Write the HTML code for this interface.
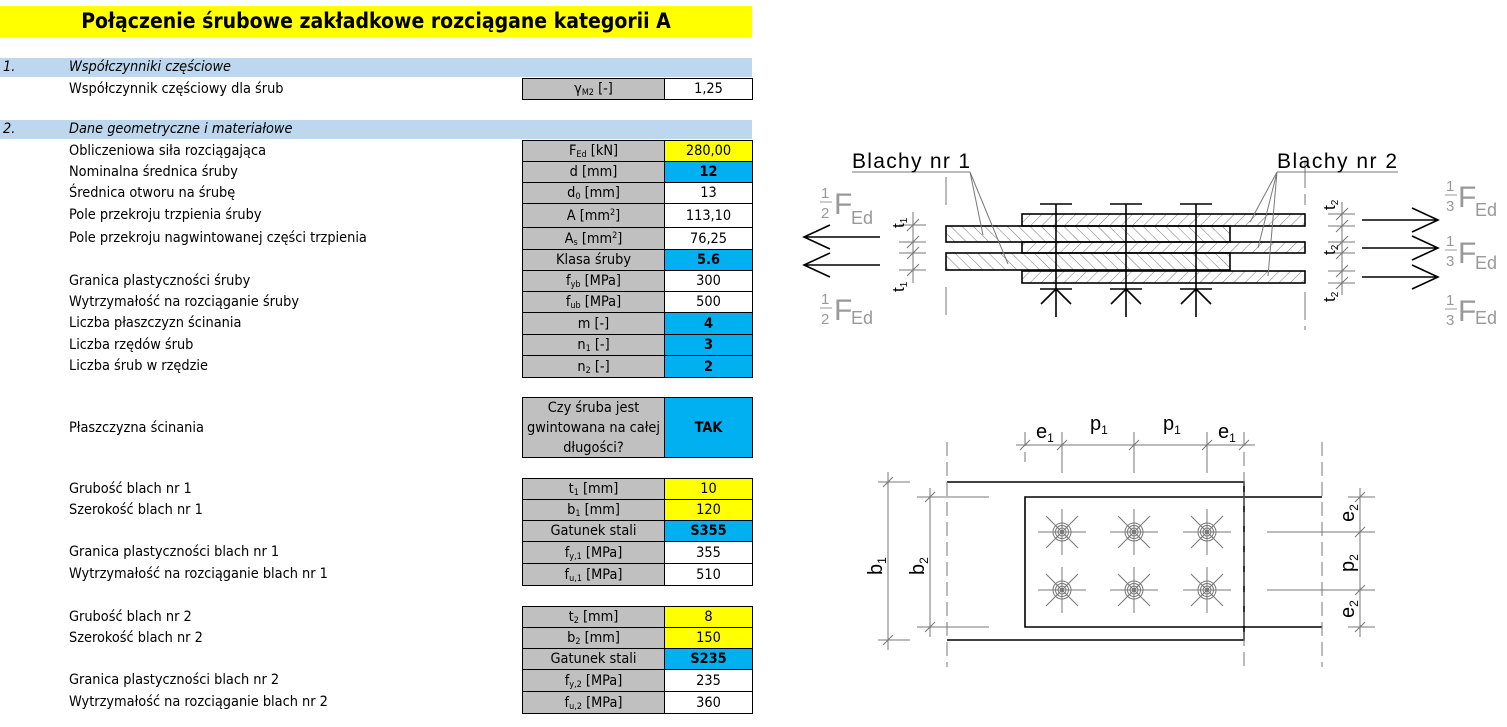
<!DOCTYPE html>
<html><head><meta charset="utf-8">
<style>
body{margin:0;width:1507px;height:727px;background:#fff;position:relative;overflow:hidden;font-family:"DejaVu Sans Condensed","Liberation Sans",sans-serif;font-size:14.4px;color:#000}
.a{position:absolute}
.bar{position:absolute;left:0;width:752px;height:19px;line-height:19px;background:#bdd7ee;font-style:italic}
.lb{position:absolute;left:69px;line-height:22px;white-space:nowrap}
.c1,.c2{position:absolute;box-sizing:border-box;border:1px solid #000;text-align:center;display:flex;align-items:center;justify-content:center}
.c1{left:522px;width:143px;background:#c0c0c0}
.c2{left:664px;width:89px;background:#fff}
.y{background:#ffff00!important}
.b{background:#00b0f0!important;font-weight:bold}
sub{font-size:9px;vertical-align:-2px;line-height:0}
sup{font-size:9px;vertical-align:5px;line-height:0}
</style></head><body>
<div class="a" style="left:0;top:6px;width:752px;height:31px;background:#ffff00;text-align:center;font-weight:bold;font-size:21px;line-height:31px">Połączenie śrubowe zakładkowe rozciągane kategorii A</div>

<div class="bar" style="top:58px"><span class="a" style="left:3px">1.</span><span class="a" style="left:69px">Współczynniki częściowe</span></div>
<div class="lb" style="top:78px">Współczynnik częściowy dla śrub</div>
<div class="c1" style="top:78px;height:22px"><span>γ<sub>M2</sub> [-]</span></div><div class="c2" style="top:78px;height:22px">1,25</div>

<div class="bar" style="top:120px"><span class="a" style="left:3px">2.</span><span class="a" style="left:69px">Dane geometryczne i materiałowe</span></div>

<div class="lb" style="top:140px">Obliczeniowa siła rozciągająca</div>
<div class="c1" style="top:140px;height:22px"><span>F<sub>Ed</sub> [kN]</span></div><div class="c2 y" style="top:140px;height:22px">280,00</div>
<div class="lb" style="top:161px">Nominalna średnica śruby</div>
<div class="c1" style="top:161px;height:22px"><span>d [mm]</span></div><div class="c2 b" style="top:161px;height:22px">12</div>
<div class="lb" style="top:182px">Średnica otworu na śrubę</div>
<div class="c1" style="top:182px;height:22px"><span>d<sub>0</sub> [mm]</span></div><div class="c2" style="top:182px;height:22px">13</div>
<div class="lb" style="top:204px">Pole przekroju trzpienia śruby</div>
<div class="c1" style="top:203px;height:25px"><span>A [mm<sup>2</sup>]</span></div><div class="c2" style="top:203px;height:25px">113,10</div>
<div class="lb" style="top:227px">Pole przekroju nagwintowanej części trzpienia</div>
<div class="c1" style="top:227px;height:23px"><span>A<sub>s</sub> [mm<sup>2</sup>]</span></div><div class="c2" style="top:227px;height:23px">76,25</div>
<div class="c1" style="top:249px;height:22px"><span>Klasa śruby</span></div><div class="c2 b" style="top:249px;height:22px">5.6</div>
<div class="lb" style="top:270px">Granica plastyczności śruby</div>
<div class="c1" style="top:270px;height:22px"><span>f<sub>yb</sub> [MPa]</span></div><div class="c2" style="top:270px;height:22px">300</div>
<div class="lb" style="top:291px">Wytrzymałość na rozciąganie śruby</div>
<div class="c1" style="top:291px;height:22px"><span>f<sub>ub</sub> [MPa]</span></div><div class="c2" style="top:291px;height:22px">500</div>
<div class="lb" style="top:312px">Liczba płaszczyzn ścinania</div>
<div class="c1" style="top:312px;height:23px"><span>m [-]</span></div><div class="c2 b" style="top:312px;height:23px">4</div>
<div class="lb" style="top:334px">Liczba rzędów śrub</div>
<div class="c1" style="top:334px;height:22px"><span>n<sub>1</sub> [-]</span></div><div class="c2 b" style="top:334px;height:22px">3</div>
<div class="lb" style="top:355px">Liczba śrub w rzędzie</div>
<div class="c1" style="top:355px;height:23px"><span>n<sub>2</sub> [-]</span></div><div class="c2 b" style="top:355px;height:23px">2</div>

<div class="lb" style="top:417px">Płaszczyzna ścinania</div>
<div class="c1" style="top:397px;height:61px;line-height:20px"><span>Czy śruba jest<br>gwintowana na całej<br>długości?</span></div><div class="c2 b" style="top:397px;height:61px">TAK</div>

<div class="lb" style="top:478px">Grubość blach nr 1</div>
<div class="c1" style="top:478px;height:22px"><span>t<sub>1</sub> [mm]</span></div><div class="c2 y" style="top:478px;height:22px">10</div>
<div class="lb" style="top:499px">Szerokość blach nr 1</div>
<div class="c1" style="top:499px;height:22px"><span>b<sub>1</sub> [mm]</span></div><div class="c2 y" style="top:499px;height:22px">120</div>
<div class="c1" style="top:520px;height:22px"><span>Gatunek stali</span></div><div class="c2 b" style="top:520px;height:22px">S355</div>
<div class="lb" style="top:541px">Granica plastyczności blach nr 1</div>
<div class="c1" style="top:541px;height:23px"><span>f<sub>y,1</sub> [MPa]</span></div><div class="c2" style="top:541px;height:23px">355</div>
<div class="lb" style="top:563px">Wytrzymałość na rozciąganie blach nr 1</div>
<div class="c1" style="top:563px;height:23px"><span>f<sub>u,1</sub> [MPa]</span></div><div class="c2" style="top:563px;height:23px">510</div>

<div class="lb" style="top:606px">Grubość blach nr 2</div>
<div class="c1" style="top:606px;height:22px"><span>t<sub>2</sub> [mm]</span></div><div class="c2 y" style="top:606px;height:22px">8</div>
<div class="lb" style="top:627px">Szerokość blach nr 2</div>
<div class="c1" style="top:627px;height:22px"><span>b<sub>2</sub> [mm]</span></div><div class="c2 y" style="top:627px;height:22px">150</div>
<div class="c1" style="top:648px;height:22px"><span>Gatunek stali</span></div><div class="c2 b" style="top:648px;height:22px">S235</div>
<div class="lb" style="top:669px">Granica plastyczności blach nr 2</div>
<div class="c1" style="top:669px;height:23px"><span>f<sub>y,2</sub> [MPa]</span></div><div class="c2" style="top:669px;height:23px">235</div>
<div class="lb" style="top:691px">Wytrzymałość na rozciąganie blach nr 2</div>
<div class="c1" style="top:691px;height:23px"><span>f<sub>u,2</sub> [MPa]</span></div><div class="c2" style="top:691px;height:23px">360</div>

<svg class="a" style="left:0;top:0" width="1507" height="727" viewBox="0 0 1507 727" font-family="Liberation Sans, sans-serif">
<defs>
<pattern id="h1" patternUnits="userSpaceOnUse" width="8" height="8" patternTransform="rotate(-45)"><line x1="0" y1="0" x2="0" y2="8" stroke="#555" stroke-width="0.8"/></pattern>
<pattern id="h2" patternUnits="userSpaceOnUse" width="8" height="8" patternTransform="rotate(45)"><line x1="0" y1="0" x2="0" y2="8" stroke="#555" stroke-width="0.8"/></pattern>
<g id="bolt"><circle cx="0" cy="0" r="9"/><circle cx="0" cy="0" r="6.5"/><circle cx="0" cy="0" r="4"/><circle cx="0" cy="0" r="1.5"/><path d="M-24 0H24M0-23V23M-16-16L16 16M-16 16L16-16"/></g>
</defs>
<g stroke="#000" stroke-width="1.6">
<rect x="946" y="226" width="284" height="16" fill="url(#h1)"/>
<rect x="946" y="253" width="284" height="17" fill="url(#h1)"/>
<rect x="1022" y="214" width="283" height="12" fill="url(#h2)"/>
<rect x="1022" y="242" width="283" height="11" fill="url(#h2)"/>
<rect x="1022" y="271" width="283" height="12" fill="url(#h2)"/>
</g>
<g stroke="#000" stroke-width="1.6" fill="none">
<path d="M1056 204V317M1040 204H1072M1040 289H1072M1041 304L1056 289L1071 304"/>
<path d="M1126 204V317M1110 204H1142M1110 289H1142M1111 304L1126 289L1141 304"/>
<path d="M1196 204V317M1180 204H1212M1180 289H1212M1181 304L1196 289L1211 304"/>
<path d="M804 237H880M830 225L804 237L830 249"/>
<path d="M804 265H880M830 253L804 265L830 277"/>
<path d="M1362 220H1438M1412 208L1438 220L1412 232"/>
<path d="M1362 248H1438M1412 236L1438 248L1412 260"/>
<path d="M1362 277H1438M1412 265L1438 277L1412 289"/>
</g>
<g stroke="#777" stroke-width="1" fill="none">
<path d="M852 172H970M1277 172H1398"/>
<path d="M970 172L983 235M970 172L1008 264M1277 172L1250 222M1277 172L1258 248M1277 172L1268 276"/>
<path d="M946 177V210M946 287V320" stroke-dasharray="28 6"/>
<path d="M1305 160V205M1305 292V330" stroke-dasharray="28 6"/>
<path d="M913 212V283M899 225H926M899 242H926M899 253H926M899 270H926M907 231L919 219M907 248L919 236M907 259L919 247M907 276L919 264"/>
<path d="M1342 202V295M1328 214H1355M1328 226H1355M1328 242H1355M1328 253H1355M1328 271H1355M1328 283H1355M1336 220L1348 208M1336 232L1348 220M1336 248L1348 236M1336 259L1348 247M1336 277L1348 265M1336 289L1348 277"/>
</g>
<g font-size="21" fill="#000">
<text x="852" y="168" textLength="118">Blachy nr 1</text>
<text x="1277" y="168" textLength="120">Blachy nr 2</text>
</g>
<g font-size="17" fill="#000">
<text transform="translate(904,228) rotate(-90)">t<tspan font-size="10" dy="3">1</tspan></text>
<text transform="translate(904,292) rotate(-90)">t<tspan font-size="10" dy="3">1</tspan></text>
<text transform="translate(1335,210) rotate(-90)">t<tspan font-size="10" dy="3">2</tspan></text>
<text transform="translate(1335,255) rotate(-90)">t<tspan font-size="10" dy="3">2</tspan></text>
<text transform="translate(1335,302) rotate(-90)">t<tspan font-size="10" dy="3">2</tspan></text>
</g>
<g fill="#999">
<g font-size="15"><text x="821" y="198">1</text><text x="821" y="218">2</text><text x="821" y="304">1</text><text x="821" y="324">2</text>
<text x="1446" y="191">1</text><text x="1446" y="211">3</text><text x="1446" y="246">1</text><text x="1446" y="266">3</text><text x="1446" y="305">1</text><text x="1446" y="325">3</text></g>
<path d="M820 202H832M820 308H832M1445 195H1457M1445 250H1457M1445 309H1457" stroke="#999"/>
<g font-size="30"><text x="834" y="214">F</text><text x="834" y="320">F</text><text x="1458" y="207">F</text><text x="1458" y="263">F</text><text x="1458" y="321">F</text></g>
<g font-size="18"><text x="851" y="224">Ed</text><text x="851" y="324">Ed</text><text x="1475" y="216">Ed</text><text x="1475" y="269">Ed</text><text x="1475" y="324">Ed</text></g>
</g>

<g stroke="#000" stroke-width="1.6" fill="none">
<path d="M947 482H1244V640H947"/>
<path d="M1322 497H1025V627H1322"/>
</g>
<g stroke="#777" stroke-width="1" fill="none">
<path d="M947 442V667M1322 442V667M1244 432V667M1025 432V462" stroke-dasharray="14 6"/>
<path d="M1062 432V473M1134 432V473M1207 432V473"/>
<path d="M1016 445H1255M1020 450L1030 440M1057 450L1067 440M1129 450L1139 440M1202 450L1212 440M1239 450L1249 440"/>
<path d="M888 472V650M878 482H910M878 640H910M883 487L893 477M883 645L893 635"/>
<path d="M930 488V637M917 497H989M917 627H989M925 502L935 492M925 632L935 622"/>
<path d="M1360 488V637M1348 497H1375M1267 532H1375M1267 590H1375M1348 627H1375M1355 502L1365 492M1355 537L1365 527M1355 595L1365 585M1355 632L1365 622"/>
<use href="#bolt" x="1062" y="532"/><use href="#bolt" x="1134" y="532"/><use href="#bolt" x="1207" y="532"/>
<use href="#bolt" x="1062" y="590"/><use href="#bolt" x="1134" y="590"/><use href="#bolt" x="1207" y="590"/>
</g>
<g font-size="20" fill="#000">
<text x="1036" y="438">e<tspan font-size="12" dy="4">1</tspan></text>
<text x="1090" y="430">p<tspan font-size="12" dy="4">1</tspan></text>
<text x="1163" y="430">p<tspan font-size="12" dy="4">1</tspan></text>
<text x="1218" y="438">e<tspan font-size="12" dy="4">1</tspan></text>
<text transform="translate(882,575) rotate(-90)">b<tspan font-size="12" dy="4">1</tspan></text>
<text transform="translate(924,575) rotate(-90)">b<tspan font-size="12" dy="4">2</tspan></text>
<text transform="translate(1354,522) rotate(-90)">e<tspan font-size="12" dy="4">2</tspan></text>
<text transform="translate(1354,572) rotate(-90)">p<tspan font-size="12" dy="4">2</tspan></text>
<text transform="translate(1354,618) rotate(-90)">e<tspan font-size="12" dy="4">2</tspan></text>
</g>
</svg>
</body></html>
